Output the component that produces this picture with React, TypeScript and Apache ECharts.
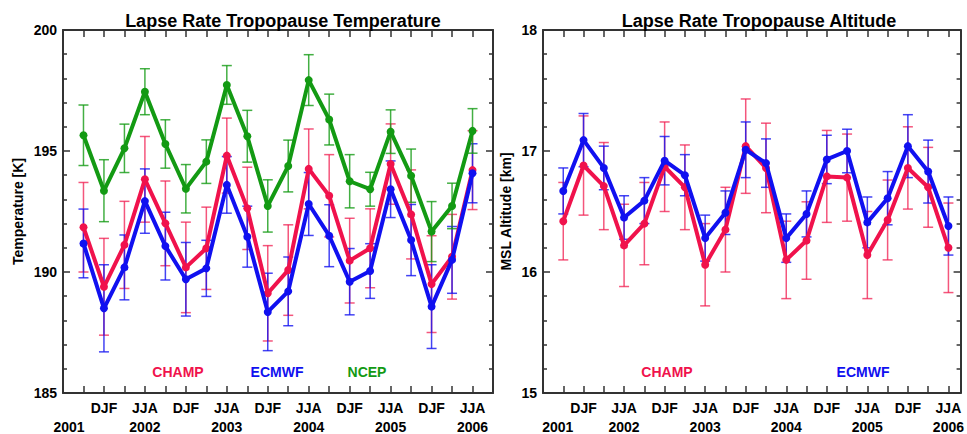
import React, { useEffect, useRef } from "react";
import * as echarts from "echarts";

// Seasons (index 0 = SON 2001 ... index 19 = JJA 2006)
const seasons = [
  "SON 2001", "DJF 2001/02", "MAM 2002", "JJA 2002", "SON 2002",
  "DJF 2002/03", "MAM 2003", "JJA 2003", "SON 2003", "DJF 2003/04",
  "MAM 2004", "JJA 2004", "SON 2004", "DJF 2004/05", "MAM 2005",
  "JJA 2005", "SON 2005", "DJF 2005/06", "MAM 2006", "JJA 2006",
];
const seasonTickLabels = ["", "DJF", "", "JJA", "", "DJF", "", "JJA", "", "DJF", "", "JJA", "", "DJF", "", "JJA", "", "DJF", "", "JJA"];
const yearTickLabels = ["2001", "", "", "2002", "", "", "", "2003", "", "", "", "2004", "", "", "", "2005", "", "", "", "2006"];

// Tropopause temperature [K]
const champT = [191.85, 189.39, 191.12, 193.83, 192.01, 190.19, 190.98, 194.81, 192.63, 189.12, 190.08, 194.26, 193.15, 190.47, 190.98, 194.46, 192.38, 189.5, 190.63, 194.21];
const champTErr = [1.85, 2.0, 1.8, 1.77, 1.75, 1.87, 1.7, 1.55, 1.7, 1.97, 1.87, 1.65, 1.7, 1.75, 1.63, 1.66, 1.84, 2.0, 1.75, 1.63];
const ecmwfT = [191.18, 188.5, 190.19, 192.93, 191.07, 189.7, 190.15, 193.6, 191.46, 188.35, 189.2, 192.81, 191.5, 189.6, 190.04, 193.42, 191.32, 188.57, 190.5, 194.08];
const ecmwfTErr = [1.42, 1.8, 1.34, 1.33, 1.4, 1.52, 1.16, 1.17, 1.26, 1.6, 1.42, 1.3, 1.28, 1.37, 1.13, 1.17, 1.47, 1.73, 1.38, 1.22];
const ncepT = [195.65, 193.36, 195.11, 197.45, 195.29, 193.44, 194.56, 197.73, 195.61, 192.73, 194.38, 197.93, 196.3, 193.75, 193.42, 195.8, 193.98, 191.67, 192.73, 195.83];
const ncepTErr = [1.25, 1.28, 1.0, 0.95, 1.0, 1.0, 0.9, 0.8, 1.07, 1.08, 1.07, 1.05, 1.05, 1.1, 0.7, 0.9, 1.1, 1.24, 0.94, 0.92];

// Tropopause altitude [km]
const champH = [16.42, 16.88, 16.71, 16.22, 16.4, 16.87, 16.7, 16.06, 16.35, 17.04, 16.86, 16.1, 16.26, 16.79, 16.78, 16.14, 16.43, 16.86, 16.7, 16.2];
const champHErr = [0.32, 0.41, 0.36, 0.34, 0.34, 0.37, 0.35, 0.34, 0.35, 0.39, 0.37, 0.32, 0.32, 0.38, 0.36, 0.36, 0.33, 0.34, 0.33, 0.37];
const ecmwfH = [16.67, 17.09, 16.86, 16.45, 16.59, 16.92, 16.8, 16.28, 16.49, 17.01, 16.9, 16.28, 16.48, 16.93, 17.0, 16.41, 16.61, 17.04, 16.83, 16.38];
const ecmwfHErr = [0.19, 0.22, 0.18, 0.18, 0.19, 0.2, 0.17, 0.19, 0.18, 0.23, 0.2, 0.2, 0.19, 0.2, 0.18, 0.21, 0.22, 0.26, 0.26, 0.24];

const FONT = "'Liberation Sans', Arial, Helvetica, sans-serif";
const RED = "#f0124c";
const RED_ERR = "rgba(240,30,80,0.75)";
const BLUE = "#1010f0";
const BLUE_ERR = "rgba(20,20,240,0.8)";
const GREEN = "#139a13";
const GREEN_ERR = "rgba(20,155,20,0.8)";
const AXIS = "#333";

function lineData(vals: number[]) {
  return vals.map((v, i) => [i, v]);
}
function errData(vals: number[], errs: number[]) {
  return vals.map((v, i) => [i, v - errs[i], v + errs[i]]);
}

function errSeries(name: string, vals: number[], errs: number[], color: string, axisIdx: number, yIdx: number) {
  return {
    type: "custom",
    name,
    xAxisIndex: axisIdx,
    yAxisIndex: yIdx,
    encode: { x: 0, y: [1, 2] },
    data: errData(vals, errs),
    z: 2,
    renderItem: (params: any, api: any) => {
      const x = api.value(0);
      const lo = api.coord([x, api.value(1)]);
      const hi = api.coord([x, api.value(2)]);
      const half = 5;
      const style = { stroke: color, lineWidth: 1.5, fill: null };
      return {
        type: "group",
        children: [
          { type: "line", shape: { x1: lo[0], y1: lo[1], x2: hi[0], y2: hi[1] }, style },
          { type: "line", shape: { x1: lo[0] - half, y1: lo[1], x2: lo[0] + half, y2: lo[1] }, style },
          { type: "line", shape: { x1: hi[0] - half, y1: hi[1], x2: hi[0] + half, y2: hi[1] }, style },
        ],
      };
    },
  };
}

function lineSeries(name: string, vals: number[], color: string, axisIdx: number, yIdx: number, z: number) {
  return {
    type: "line",
    name,
    xAxisIndex: axisIdx,
    yAxisIndex: yIdx,
    data: lineData(vals),
    symbol: "circle",
    symbolSize: 8,
    lineStyle: { color, width: 4 },
    itemStyle: { color },
    z,
  };
}

function bottomSeasonAxis(grid: number, max: number) {
  return {
    type: "value",
    gridIndex: grid,
    position: "bottom",
    min: -1,
    max,
    interval: 1,
    splitLine: { show: false },
    axisLine: { show: true, onZero: false, lineStyle: { color: AXIS, width: 2 } },
    axisTick: { show: true, inside: true, length: 7, lineStyle: { color: AXIS, width: 1.5 } },
    axisLabel: {
      show: true,
      margin: 8,
      color: "#000",
      fontFamily: FONT,
      fontWeight: "bold",
      fontSize: 14,
      showMinLabel: true,
      showMaxLabel: true,
      formatter: (v: number) => {
        if (!Number.isInteger(v) || v < 0 || v >= seasonTickLabels.length) return "";
        return seasonTickLabels[v];
      },
    },
  };
}

function bottomYearAxis(grid: number, max: number, firstPad: number) {
  return {
    type: "value",
    gridIndex: grid,
    position: "bottom",
    offset: 19,
    min: -1,
    max,
    interval: 1,
    splitLine: { show: false },
    axisLine: { show: false },
    axisTick: { show: false },
    axisLabel: {
      show: true,
      margin: 8,
      color: "#000",
      fontFamily: FONT,
      fontWeight: "bold",
      fontSize: 14,
      formatter: (v: number) => {
        if (!Number.isInteger(v) || v < 0 || v >= yearTickLabels.length) return "";
        const t = yearTickLabels[v];
        if (!t) return "";
        return v === 0 ? "{first|" + t + "}" : t;
      },
      rich: {
        first: {
          fontFamily: FONT,
          fontWeight: "bold",
          fontSize: 14,
          color: "#000",
          padding: [0, firstPad, 0, 0],
        },
      },
    },
  };
}

function topAxis(grid: number, max: number) {
  return {
    type: "value",
    gridIndex: grid,
    position: "top",
    min: -1,
    max,
    interval: 1,
    splitLine: { show: false },
    axisLine: { show: true, onZero: false, lineStyle: { color: AXIS, width: 2 } },
    axisTick: { show: true, inside: true, length: 7, lineStyle: { color: AXIS, width: 1.5 } },
    axisLabel: { show: false },
  };
}

function yAxisLeft(grid: number, min: number, max: number, interval: number, name: string, nameGap: number) {
  return {
    type: "value",
    gridIndex: grid,
    position: "left",
    min,
    max,
    interval,
    name,
    nameLocation: "middle",
    nameRotate: 90,
    nameGap,
    nameTextStyle: { color: "#000", fontFamily: FONT, fontWeight: "bold", fontSize: 14 },
    splitLine: { show: false },
    axisLine: { show: true, onZero: false, lineStyle: { color: AXIS, width: 2 } },
    axisTick: { show: true, inside: true, length: 7, lineStyle: { color: AXIS, width: 1.5 } },
    minorTick: { show: true, splitNumber: 5, length: 4, lineStyle: { color: AXIS, width: 1.5 } },
    minorSplitLine: { show: false },
    axisLabel: { show: true, margin: 6, color: "#000", fontFamily: FONT, fontWeight: "bold", fontSize: 14 },
  };
}

function yAxisRight(grid: number, min: number, max: number, interval: number) {
  return {
    type: "value",
    gridIndex: grid,
    position: "right",
    min,
    max,
    interval,
    splitLine: { show: false },
    axisLine: { show: true, onZero: false, lineStyle: { color: AXIS, width: 2 } },
    axisTick: { show: true, inside: true, length: 7, lineStyle: { color: AXIS, width: 1.5 } },
    minorTick: { show: true, splitNumber: 5, length: 4, lineStyle: { color: AXIS, width: 1.5 } },
    minorSplitLine: { show: false },
    axisLabel: { show: false },
  };
}

const labelText = (text: string, x: number, y: number, color: string) => ({
  type: "text",
  x,
  y,
  style: {
    text,
    fill: color,
    font: "bold 14px " + FONT,
    textAlign: "center",
    textVerticalAlign: "middle",
  },
});

export default function App() {
  const ref = useRef<HTMLDivElement>(null);
  useEffect(() => {
    if (!ref.current) return;
    const chart = echarts.init(ref.current, undefined, { renderer: "svg" });
    const LMAX = 20;
    const RMAX = 19.6;
    chart.setOption({
      animation: false,
      backgroundColor: "#fff",
      title: [
        {
          text: "Lapse Rate Tropopause Temperature",
          left: 278,
          top: 7,
          textAlign: "center",
          textStyle: { fontFamily: FONT, fontWeight: "bold", fontSize: 18, color: "#000" },
        },
        {
          text: "Lapse Rate Tropopause Altitude",
          left: 754,
          top: 7,
          textAlign: "center",
          textStyle: { fontFamily: FONT, fontWeight: "bold", fontSize: 18, color: "#000" },
        },
      ],
      grid: [
        { left: 63, top: 30, width: 430, height: 363 },
        { left: 543, top: 30, width: 422, height: 363 },
      ],
      xAxis: [
        bottomSeasonAxis(0, LMAX),
        bottomYearAxis(0, LMAX, 29),
        topAxis(0, LMAX),
        bottomSeasonAxis(1, RMAX),
        bottomYearAxis(1, RMAX, 11),
        topAxis(1, RMAX),
      ],
      yAxis: [
        yAxisLeft(0, 185, 200, 5, "Temperature [K]", 38),
        yAxisRight(0, 185, 200, 5),
        yAxisLeft(1, 15, 18, 1, "MSL Altitude [km]", 30),
        yAxisRight(1, 15, 18, 1),
      ],
      series: [
        errSeries("CHAMP err", champT, champTErr, RED_ERR, 0, 0),
        errSeries("ECMWF err", ecmwfT, ecmwfTErr, BLUE_ERR, 0, 0),
        errSeries("NCEP err", ncepT, ncepTErr, GREEN_ERR, 0, 0),
        lineSeries("CHAMP", champT, RED, 0, 0, 3),
        lineSeries("ECMWF", ecmwfT, BLUE, 0, 0, 4),
        lineSeries("NCEP", ncepT, GREEN, 0, 0, 5),
        errSeries("CHAMP err", champH, champHErr, RED_ERR, 3, 2),
        errSeries("ECMWF err", ecmwfH, ecmwfHErr, BLUE_ERR, 3, 2),
        lineSeries("CHAMP", champH, RED, 3, 2, 3),
        lineSeries("ECMWF", ecmwfH, BLUE, 3, 2, 4),
      ],
      graphic: [
        labelText("CHAMP", 178, 372, RED),
        labelText("ECMWF", 277, 372, BLUE),
        labelText("NCEP", 367, 372, GREEN),
        labelText("CHAMP", 667, 372, RED),
        labelText("ECMWF", 863, 372, BLUE),
      ],
    });
    return () => chart.dispose();
  }, []);
  return (
    <div
      ref={ref}
      data-seasons={seasons.length}
      style={{ position: "fixed", left: 0, top: 0, width: 967, height: 434, background: "#fff" }}
    />
  );
}
